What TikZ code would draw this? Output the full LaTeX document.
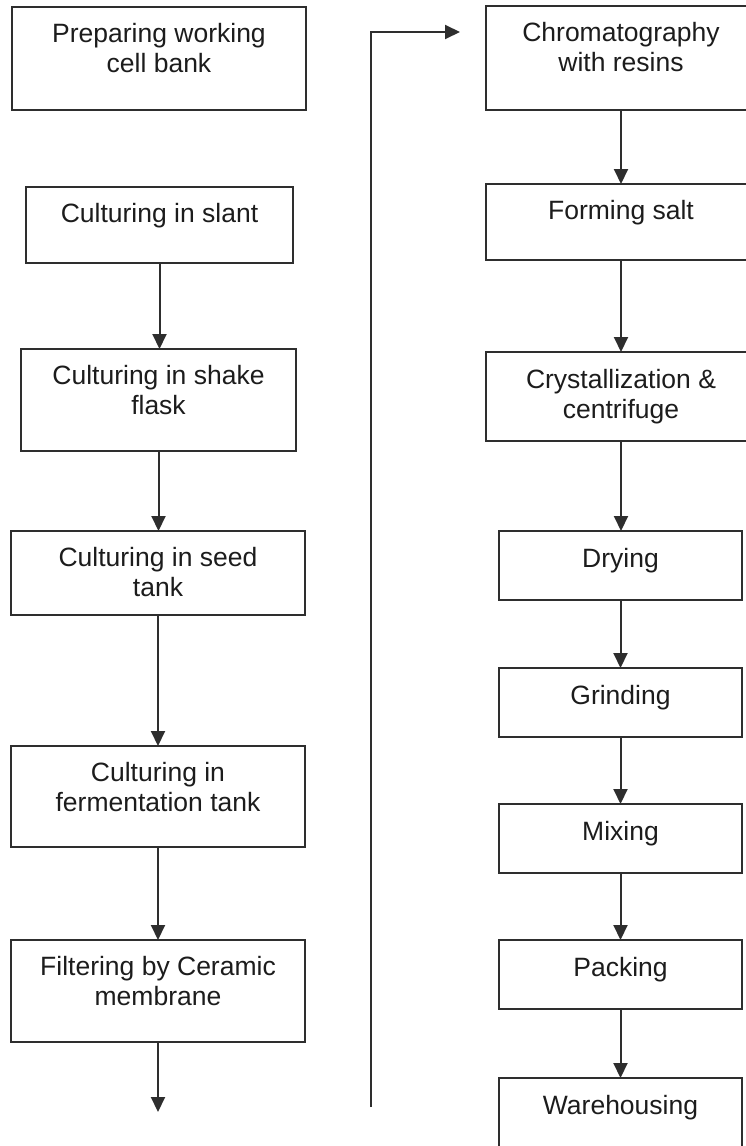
\documentclass[tikz,border=0pt]{standalone}
\usepackage{fontspec}
\setmainfont{Liberation Sans}
\usetikzlibrary{arrows.meta}
\definecolor{linec}{HTML}{2E2E2E}
\definecolor{textc}{HTML}{1C1C1C}
\begin{document}
\begin{tikzpicture}[x=1pt,y=-1pt,
  box/.style={draw=linec, line width=2pt, inner sep=0pt, outer sep=0pt},
  lbl/.style={anchor=north, inner sep=0pt, align=center, text=textc, font=\fontsize{26.5}{30}\selectfont},
  arr/.style={draw=linec, line width=2pt, -{Triangle[width=14pt,length=15pt]}}]
\useasboundingbox (0,0) rectangle (746,1146);
% left column
\node[box, minimum width=294pt, minimum height=103pt] (b1) at (159,58.5) {};
\node[box, minimum width=267pt, minimum height=76pt]  (b2) at (159.5,225) {};
\node[box, minimum width=275pt, minimum height=102pt] (b3) at (158.5,400) {};
\node[box, minimum width=294pt, minimum height=84pt]  (b4) at (158,573) {};
\node[box, minimum width=294pt, minimum height=101pt] (b5) at (158,796.5) {};
\node[box, minimum width=294pt, minimum height=102pt] (b6) at (158,991) {};
\node[lbl] (t1) at ([yshift=-14pt]b1.north) {\strut Preparing working\\\strut cell bank};
\node[lbl] (t2) at ([yshift=-14pt]b2.north) {\strut Culturing in slant};
\node[lbl] (t3) at ([yshift=-14pt]b3.north) {\strut Culturing in shake\\\strut flask};
\node[lbl] (t4) at ([yshift=-14pt]b4.north) {\strut Culturing in seed\\\strut tank};
\node[lbl] (t5) at ([yshift=-14pt]b5.north) {\strut Culturing in\\\strut fermentation tank};
\node[lbl] (t6) at ([yshift=-14pt]b6.north) {\strut Filtering by Ceramic\\\strut membrane};
% right column
\node[box, minimum width=270pt, minimum height=104pt] (r1) at (621,58) {};
\node[box, minimum width=270pt, minimum height=76pt]  (r2) at (621,222) {};
\node[box, minimum width=270pt, minimum height=89pt]  (r3) at (621,396.5) {};
\node[box, minimum width=243pt, minimum height=69pt]  (r4) at (620.5,565.5) {};
\node[box, minimum width=243pt, minimum height=69pt]  (r5) at (620.5,702.5) {};
\node[box, minimum width=243pt, minimum height=69pt]  (r6) at (620.5,838.5) {};
\node[box, minimum width=243pt, minimum height=69pt]  (r7) at (620.5,974.5) {};
\node[box, minimum width=243pt, minimum height=72pt]  (r8) at (620.5,1114) {};
\node[lbl] (s1) at ([yshift=-14pt]r1.north) {\strut Chromatography\\\strut with resins};
\node[lbl] (s2) at ([yshift=-14pt]r2.north) {\strut Forming salt};
\node[lbl] (s3) at ([yshift=-15pt]r3.north) {\strut Crystallization \&\\\strut centrifuge};
\node[lbl] (s4) at ([yshift=-15pt]r4.north) {\strut Drying};
\node[lbl] (s5) at ([yshift=-15pt]r5.north) {\strut Grinding};
\node[lbl] (s6) at ([yshift=-15pt]r6.north) {\strut Mixing};
\node[lbl] (s7) at ([yshift=-15pt]r7.north) {\strut Packing};
\node[lbl] (s8) at ([yshift=-15pt]r8.north) {\strut Warehousing};
% connectors left
\draw[arr] (b2.south) -- (b2.south |- b3.north);
\draw[arr] (b3.south) -- (b3.south |- b4.north);
\draw[arr] (b4.south) -- (b4.south |- b5.north);
\draw[arr] (b5.south) -- (b5.south |- b6.north);
\coordinate (bend) at (158,1112);
\draw[arr] (b6.south) -- (bend);
% return line
\coordinate (lb) at (371,1107);
\coordinate (lt) at (371,32);
\coordinate (la) at (460,32);
\draw[arr] (lb) -- (lt) -- (la);
% connectors right
\draw[arr] (r1.south) -- (r1.south |- r2.north);
\draw[arr] (r2.south) -- (r2.south |- r3.north);
\draw[arr] (r3.south) -- (r3.south |- r4.north);
\draw[arr] (r4.south) -- (r4.south |- r5.north);
\draw[arr] (r5.south) -- (r5.south |- r6.north);
\draw[arr] (r6.south) -- (r6.south |- r7.north);
\draw[arr] (r7.south) -- (r7.south |- r8.north);
\end{tikzpicture}
\end{document}
